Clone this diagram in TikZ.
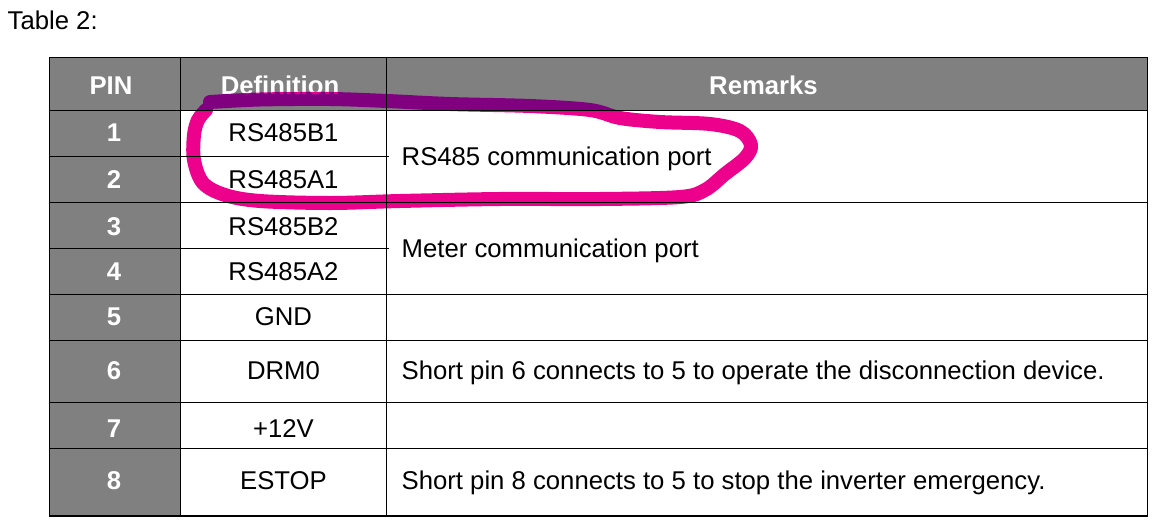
\documentclass[tikz,border=0pt]{standalone}
\usepackage{fontspec}
\setmainfont{Liberation Sans}
\definecolor{hdgray}{RGB}{128,128,128}
\definecolor{hotpink}{RGB}{236,0,140}
\begin{document}
\begin{tikzpicture}[x=1pt,y=-1pt,
  txt/.style={inner sep=0pt, text height=18.4pt, text depth=0pt, font=\fontsize{25.7}{30}\selectfont},
  hd/.style={txt, text=white, font=\fontsize{25.7}{30}\selectfont\bfseries},
  rem/.style={txt, anchor=west},
  grid/.style={line width=1pt, black},
  outer/.style={line width=1.3pt, black},
  marker/.style={hotpink, line width=14pt, line cap=round, line join=round}]
\useasboundingbox (0,0) rectangle (1160,525);
\fill[white] (0,0) rectangle (1160,525);
\node[txt, anchor=base west] (title) at (7.5,29.7) {Table 2:};
% fills
\fill[hdgray] (49.5,57.3) rectangle (1147.5,110.3);
\fill[hdgray] (49.5,110.3) rectangle (180.7,516);
% header
\node[hd] (hpin) at (111,85) {PIN};
\node[hd] (hdef) at (280,85) {Definition};
\node[hd] (hrem) at (763.5,85) {Remarks};
% pin numbers
\node[hd] (p1) at (114,132.5) {1};
\node[hd] (p2) at (114,179.5) {2};
\node[hd] (p3) at (114,225.8) {3};
\node[hd] (p4) at (114,270.8) {4};
\node[hd] (p5) at (114,316.2) {5};
\node[hd] (p6) at (114,370) {6};
\node[hd] (p7) at (114,428) {7};
\node[hd] (p8) at (114,480) {8};
% definitions
\node[txt] (d1) at (283.5,132.5) {RS485B1};
\node[txt] (d2) at (283.5,179.5) {RS485A1};
\node[txt] (d3) at (283.5,225.8) {RS485B2};
\node[txt] (d4) at (283.5,270.8) {RS485A2};
\node[txt] (d5) at (283.5,316.2) {GND};
\node[txt] (d6) at (283.5,370) {DRM0};
\node[txt] (d7) at (283.5,428) {+12V};
\node[txt] (d8) at (283.5,480) {ESTOP};
% remarks
\node[rem] (r12) at (401.5,155.8) {RS485 communication port};
\node[rem] (r34) at (401.5,248) {Meter communication port};
\node[rem] (r6) at (401.5,370) {Short pin 6 connects to 5 to operate the disconnection device.};
\node[rem] (r8) at (401.5,480) {Short pin 8 connects to 5 to stop the inverter emergency.};
% marker loop
\begin{scope}[blend mode=darken]
\draw[marker] plot[smooth, tension=0.55] coordinates {
 (210,102) (260,99.5) (330,99) (387,101) (450,104) (530,106) (590,110) (620,118)
 (660,122) (710,124) (740,131) (751,145) (745,158) (725,174) (705,190) (680,197)
 (600,199) (500,199) (400,201) (330,203) (260,201) (225,195) (203,183) (194,160)
 (194,135) (198,120) (206,110)};
\end{scope}
% grid lines
\draw[grid] (49.5,110.3) -- (1147.5,110.3);
\draw[grid] (49.5,156.3) -- (388.5,156.3);
\draw[grid] (49.5,202.3) -- (1147.5,202.3);
\draw[grid] (49.5,248.3) -- (388.5,248.3);
\draw[grid] (49.5,294.3) -- (1147.5,294.3);
\draw[grid] (49.5,340.3) -- (1147.5,340.3);
\draw[grid] (49.5,402.3) -- (1147.5,402.3);
\draw[grid] (49.5,448.5) -- (1147.5,448.5);
\draw[grid] (180.7,57.3) -- (180.7,516);
\draw[grid] (386.7,57.3) -- (386.7,516);
\draw[outer] (49.5,57.3) rectangle (1147.5,516);
\end{tikzpicture}
\end{document}
